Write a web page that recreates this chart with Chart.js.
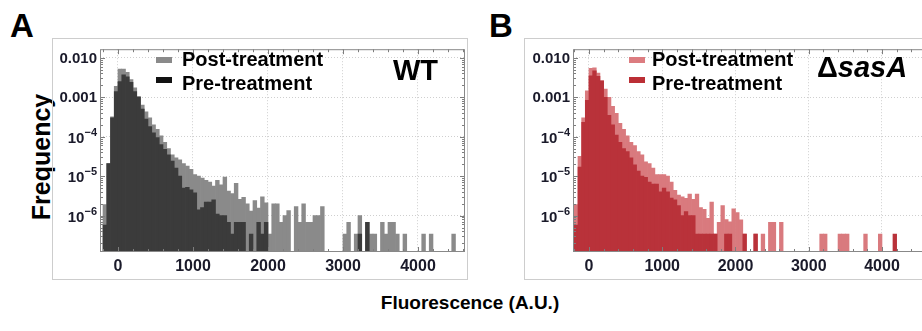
<!DOCTYPE html>
<html>
<head>
<meta charset="utf-8">
<script src="https://cdn.jsdelivr.net/npm/chart.js@4.4.0/dist/chart.umd.min.js"></script>
<style>
    html, body { margin: 0; padding: 0; background: #fff; width: 922px; height: 331px; overflow: hidden; }
    body { position: relative; font-family: "Liberation Sans", Arial, sans-serif; }
    .panel { position: absolute; top: 38px; width: 416px; height: 242px; border: 1px solid #cdcdcd; box-sizing: border-box; }
    #panelA { left: 52px; }
    #panelB { left: 524px; }
    .panel canvas { position: absolute; left: 0; top: 0; }
    .lbl { position: absolute; font-weight: bold; color: #000; white-space: nowrap; line-height: 1; }
    .swatch { position: absolute; width: 16px; height: 6px; }
</style>
</head>
<body>
<div class="lbl" style="left:10px; top:9px; font-size:33px;">A</div>
<div class="lbl" style="left:489px; top:9px; font-size:33px;">B</div>
<div class="lbl" style="left:41px; top:157px; font-size:25px; transform: translate(-50%, -50%) rotate(-90deg);">Frequency</div>
<div class="lbl" style="left:470px; top:293px; font-size:19px; transform: translateX(-50%);">Fluorescence (A.U.)</div>

<div class="panel" id="panelA"><canvas id="chartA" width="414" height="240"></canvas></div>
<div class="panel" id="panelB"><canvas id="chartB" width="414" height="240"></canvas></div>

<div class="swatch" style="left:156px; top:57px; background:#8a8a8a;"></div>
<div class="swatch" style="left:156px; top:77px; background:#111;"></div>
<div class="lbl" style="left:182px; top:49px; font-size:20px;">Post-treatment</div>
<div class="lbl" style="left:182px; top:73px; font-size:20px;">Pre-treatment</div>
<div class="lbl" style="left:393px; top:56px; font-size:29px;">WT</div>

<div class="swatch" style="left:629px; top:57px; background:#dc7c80;"></div>
<div class="swatch" style="left:629px; top:77px; background:#bb2f35;"></div>
<div class="lbl" style="left:652px; top:49px; font-size:20px;">Post-treatment</div>
<div class="lbl" style="left:652px; top:73px; font-size:20px;">Pre-treatment</div>
<div class="lbl" style="left:817px; top:53px; font-size:29px;">Δ<i>sasA</i></div>

<script>
// histogram bin centres (bin width 50)
const binCenters = [
    -175, -125, -75, -25, 25, 75, 125, 175, 225, 275,
    325, 375, 425, 475, 525, 575, 625, 675, 725, 775,
    825, 875, 925, 975, 1025, 1075, 1125, 1175, 1225, 1275,
    1325, 1375, 1425, 1475, 1525, 1575, 1625, 1675, 1725, 1775,
    1825, 1875, 1925, 1975, 2025, 2075, 2125, 2175, 2225, 2275,
    2325, 2375, 2425, 2475, 2525, 2575, 2625, 2675, 2725, 2775,
    2825, 2875, 2925, 2975, 3025, 3075, 3125, 3175, 3225, 3275,
    3325, 3375, 3425, 3475, 3525, 3575, 3625, 3675, 3725, 3775,
    3825, 3875, 3925, 3975, 4025, 4075, 4125, 4175, 4225, 4275,
    4325, 4375, 4425, 4475
];

const wtPost = [
    1.9e-6, 2.1e-5, 3.2e-4, 1.9e-3, 5.2e-3, 5.2e-3, 4.3e-3, 2.8e-3, 1.74e-3, 1.05e-3,
    6.3e-4, 4.3e-4, 3.0e-4, 2.0e-4, 1.55e-4, 1.05e-4, 7.2e-5, 5.0e-5, 3.5e-5, 2.9e-5,
    2.6e-5, 2.1e-5, 1.8e-5, 1.5e-5, 1.1e-5, 1.0e-5, 8.9e-6, 7.9e-6, 7.1e-6, 5.6e-6,
    7.9e-6, 6.0e-6, 9.5e-6, 4.2e-6, 3.6e-6, 6.6e-6, 2.6e-6, 2.9e-6, 2.0e-6, 1.3e-6,
    2.4e-6, 1.55e-6, 3.0e-6, 2.1e-6, 3.4e-7, 2.0e-6, 2.0e-6, 6.8e-7, 1.0e-6, 1.35e-6,
    null, 1.7e-6, 6.8e-7, 2.0e-6, 6.8e-7, 6.8e-7, 1.0e-6, 1.0e-6, 1.7e-6, null,
    null, null, null, null, 3.4e-7, 6.8e-7, null, 3.4e-7, 1.0e-6, null,
    6.8e-7, 3.4e-7, 3.4e-7, null, 6.8e-7, 3.4e-7, 6.8e-7, 6.8e-7, 3.4e-7, null,
    3.4e-7, null, null, null, null, 3.4e-7, null, 3.4e-7, null, null,
    null, null, null, 3.4e-7
];

const wtPre = [
    5.8e-7, 2.1e-5, 3.0e-4, 1.4e-3, 2.5e-3, 3.7e-3, 3.3e-3, 2.4e-3, 1.4e-3, 1.0e-3,
    5.0e-4, 2.8e-4, 1.8e-4, 1.26e-4, 9.5e-5, 6.3e-5, 4.8e-5, 3.5e-5, 2.4e-5, 1.6e-5,
    1.0e-5, 5.0e-6, 5.2e-6, 4.5e-6, 3.8e-6, 1.4e-6, 1.6e-6, 2.2e-6, 2.2e-6, 2.5e-6,
    1.1e-6, 1.0e-6, 1.0e-6, 6.8e-7, 3.4e-7, 6.8e-7, 6.8e-7, 6.8e-7, null, 3.4e-7,
    null, 6.8e-7, 3.4e-7, 6.8e-7, null, null, null, null, null, null,
    null, null, null, null, null, null, null, null, null, null,
    null, null, null, null, null, null, null, null, 3.4e-7, null,
    6.8e-7, null, null, null, null, null, null, null, null, null,
    null, null, null, null, null, null, null, null, null, null,
    null, null, null, null
];

const sasPost = [
    1.9e-6, 3.2e-5, 3.0e-4, 1.45e-3, 5.4e-3, 5.6e-3, 4.1e-3, 2.6e-3, 1.6e-3, 1.0e-3,
    5.9e-4, 3.9e-4, 2.2e-4, 1.55e-4, 1.05e-4, 7.2e-5, 6.0e-5, 4.2e-5, 3.5e-5, 2.3e-5,
    2.1e-5, 1.6e-5, 1.1e-5, 1.1e-5, 1.1e-5, 1.0e-5, 7.1e-6, 4.4e-6, 3.3e-6, 3.0e-6,
    2.75e-6, 3.5e-6, 2.6e-6, 3.5e-6, 1.6e-6, 1.45e-6, 8.5e-7, 2.2e-6, 3.4e-7, 6.8e-7,
    1.8e-6, 8.0e-7, 7.0e-7, 1.5e-6, 1.2e-6, 7.8e-7, 3.4e-7, null, null, 3.4e-7,
    null, 3.4e-7, null, 6.8e-7, 6.8e-7, null, 6.8e-7, null, null, null,
    null, null, null, null, null, null, null, 3.4e-7, 3.4e-7, null,
    null, null, 3.4e-7, 3.4e-7, 3.4e-7, null, null, null, null, 3.4e-7,
    null, null, null, 3.4e-7, null, null, null, null, null, null,
    null, null, null, null
];

const sasPre = [
    5.8e-7, 1.7e-5, 2.3e-4, 8.3e-4, 3.5e-3, 4.7e-3, 3.4e-3, 2.6e-3, 1.0e-3, 3.5e-4,
    2.0e-4, 1.1e-4, 7.2e-5, 5.0e-5, 4.2e-5, 2.9e-5, 1.95e-5, 1.35e-5, 1.0e-5, 9.3e-6,
    7.1e-6, 6.3e-6, 6.3e-6, 4.0e-6, 5.0e-6, 4.0e-6, 2.8e-6, 2.5e-6, 1.8e-6, 1.0e-6,
    1.26e-6, 1.0e-6, 1.0e-6, 3.4e-7, 3.4e-7, 3.4e-7, 3.4e-7, 3.4e-7, 3.4e-7, null,
    null, 3.4e-7, 3.4e-7, null, null, null, 3.4e-7, null, null, 3.4e-7,
    null, null, null, null, null, null, null, null, null, null,
    null, null, null, null, null, null, null, null, null, null,
    null, null, null, null, null, null, null, null, null, null,
    null, null, null, null, null, null, null, 3.4e-7, null, null,
    null, null, null, null
];

const xTicks = [0, 1000, 2000, 3000, 4000];
const yTicks = [1e-6, 1e-5, 1e-4, 1e-3, 1e-2];
// [base, exponent] for each y tick; exponent '' means plain text
const yTickLabels = [['10', '−6'], ['10', '−5'], ['10', '−4'], ['0.001', ''], ['0.010', '']];
const yMin = 1.2e-7;
const yMax = 0.0165;

const FONT = '"Liberation Sans", Arial, sans-serif';
const TICK_COLOR = '#1a1a2a';
Chart.defaults.font.family = FONT;

// Mathematica-like frame with inward ticks on all four sides, plus y labels with superscripts
const frameTicks = {
    id: 'frameTicks',
    afterDraw(chart) {
        const {ctx, chartArea: a, scales: {x, y}} = chart;
        ctx.save();
        ctx.strokeStyle = '#7d7d7d';
        ctx.lineWidth = 1;
        ctx.beginPath();
        for (let v = -200; v <= x.max; v += 200) {
            if (v < x.min) continue;
            const px = Math.round(x.getPixelForValue(v)) + 0.5;
            const len = v % 1000 === 0 ? 5 : 3;
            ctx.moveTo(px, a.bottom); ctx.lineTo(px, a.bottom - len);
            ctx.moveTo(px, a.top); ctx.lineTo(px, a.top + len);
        }
        for (let d = -7; d <= -2; d++) {
            for (let k = 1; k <= 9; k++) {
                const v = k * Math.pow(10, d);
                if (v < y.min || v > y.max) continue;
                const py = Math.round(y.getPixelForValue(v)) + 0.5;
                const len = k === 1 ? 5 : 3;
                ctx.moveTo(a.left, py); ctx.lineTo(a.left + len, py);
                ctx.moveTo(a.right, py); ctx.lineTo(a.right - len, py);
            }
        }
        ctx.stroke();
        ctx.strokeStyle = '#888';
        ctx.strokeRect(a.left + 0.5, a.top + 0.5, a.right - a.left - 1, a.bottom - a.top - 1);

        // y tick labels
        ctx.fillStyle = TICK_COLOR;
        yTicks.forEach((v, i) => {
            const [base, exp] = yTickLabels[i];
            const py = y.getPixelForValue(v);
            const right = a.left - 3;
            ctx.textAlign = 'left';
            if (exp) {
                ctx.font = 'bold 11px ' + FONT;
                const ew = ctx.measureText(exp).width;
                ctx.font = 'bold 15px ' + FONT;
                const bw = ctx.measureText(base).width;
                ctx.textBaseline = 'middle';
                ctx.fillText(base, right - ew - bw, py + 2);
                ctx.font = 'bold 11px ' + FONT;
                ctx.textBaseline = 'alphabetic';
                ctx.fillText(exp, right - ew, py - 1);
            } else {
                ctx.font = 'bold 15px ' + FONT;
                ctx.textBaseline = 'middle';
                ctx.textAlign = 'right';
                ctx.fillText(base, right, py + 1);
            }
        });
        ctx.restore();
    }
};

function makeHistogram(canvasId, postValues, preValues, postColor, preColor, xMin, xMax, yWidth) {
    const ctx = document.getElementById(canvasId).getContext('2d');
    return new Chart(ctx, {
        type: 'bar',
        data: {
            datasets: [
                {
                    label: 'Post-treatment',
                    data: binCenters.map((c, i) => ({x: c, y: postValues[i]})),
                    backgroundColor: postColor,
                    grouped: false,
                    order: 1,
                    barPercentage: 1,
                    categoryPercentage: 1,
                    borderWidth: 0,
                },
                {
                    label: 'Pre-treatment',
                    data: binCenters.map((c, i) => ({x: c, y: preValues[i]})),
                    backgroundColor: preColor,
                    grouped: false,
                    order: 0,
                    barPercentage: 1,
                    categoryPercentage: 1,
                    borderWidth: 0,
                },
            ],
        },
        options: {
            responsive: false,
            animation: false,
            layout: { padding: { top: 1, right: 2, left: 0, bottom: 0 } },
            plugins: {
                legend: { display: false },
                tooltip: { enabled: false },
            },
            scales: {
                x: {
                    type: 'linear',
                    min: xMin,
                    max: xMax,
                    offset: false,
                    afterBuildTicks: s => { s.ticks = xTicks.map(v => ({value: v})); },
                    afterFit: s => { s.height = 27; },
                    grid: { offset: false, color: '#cfcfcf', drawTicks: false },
                    border: { display: false, dash: [1, 2] },
                    ticks: {
                        color: TICK_COLOR,
                        padding: 5,
                        maxRotation: 0,
                        font: { size: 16, weight: 'bold' },
                        callback: v => String(v),
                    },
                },
                y: {
                    type: 'logarithmic',
                    min: yMin,
                    max: yMax,
                    afterBuildTicks: s => { s.ticks = yTicks.map(v => ({value: v})); },
                    afterFit: s => { s.width = yWidth; },
                    grid: { color: '#cfcfcf', drawTicks: false },
                    border: { display: false, dash: [1, 2] },
                    ticks: {
                        padding: 3,
                        callback: () => '',
                    },
                },
            },
        },
        plugins: [frameTicks],
    });
}

const chartA = makeHistogram('chartA', wtPost, wtPre, '#8a8a8a', '#3b3b3b', -240, 4627, 47);
const chartB = makeHistogram('chartB', sasPost, sasPre, '#d97a7e', '#b9323a', -218, 4751, 48);
</script>
</body>
</html>
